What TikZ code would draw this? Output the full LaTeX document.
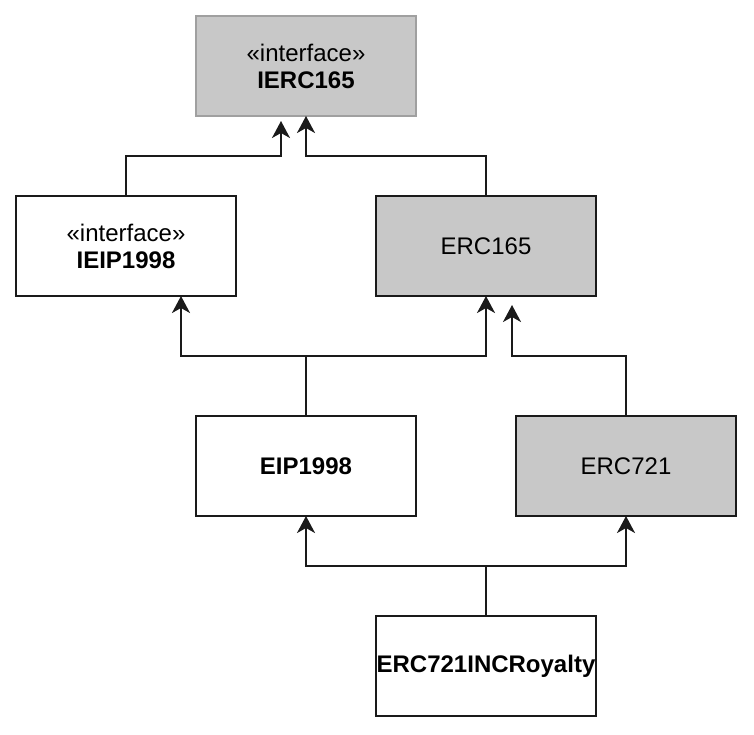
\documentclass[tikz,border=0pt]{standalone}
\usepackage{fontspec}
\setmainfont{Liberation Sans}
\usetikzlibrary{arrows.meta}
\definecolor{boxgray}{HTML}{C8C8C8}
\definecolor{ifborder}{HTML}{A0A0A0}
\definecolor{lineblack}{HTML}{1A1A1A}
\begin{document}
\begin{tikzpicture}[x=1pt,y=-1pt,
  cls/.style={draw=lineblack,line width=2pt,minimum width=220pt,minimum height=100pt,
    inner sep=0pt,outer sep=0pt,align=center,font=\fontsize{24}{27}\selectfont,text=black},
  grayfill/.style={fill=boxgray},
  conn/.style={draw=lineblack,line width=2pt,
    -{Stealth[length=17pt,width=18pt,inset=5pt]}}
]
\useasboundingbox (0,0) rectangle (754,734);

\node[cls,grayfill,draw=ifborder] (ierc) at (306,66) {«interface»\\\textbf{IERC165}};
\node[cls] (ieip) at (126,246) {«interface»\\\textbf{IEIP1998}};
\node[cls,grayfill] (erc165) at (486,246) {ERC165};
\node[cls] (eip) at (306,466) {\textbf{EIP1998}};
\node[cls,grayfill] (erc721) at (626,466) {ERC721};
\node[cls,fill=white] (roy) at (486,666) {\textbf{ERC721INCRoyalty}};

% IEIP1998 -> IERC165
\draw[conn] (ieip.north) -- (ieip.north |- 0,156) -| ([xshift=-25pt,yshift=-5pt]ierc.south);
% ERC165 -> IERC165
\draw[conn] (erc165.north) -- (erc165.north |- 0,156) -| (ierc.south);
% EIP1998 -> IEIP1998
\draw[conn] (eip.north) -- (eip.north |- 0,356) -| ([xshift=55pt]ieip.south);
% EIP1998 -> ERC165
\draw[conn] (eip.north |- 0,356) -| (erc165.south);
% ERC721 -> ERC165
\draw[conn] (erc721.north) -- (erc721.north |- 0,356) -| ([xshift=26pt,yshift=-9pt]erc165.south);
% ERC721INCRoyalty -> EIP1998
\draw[conn] (roy.north) -- (roy.north |- 0,566) -| (eip.south);
% ERC721INCRoyalty -> ERC721
\draw[conn] (roy.north |- 0,566) -| (erc721.south);
\end{tikzpicture}
\end{document}
